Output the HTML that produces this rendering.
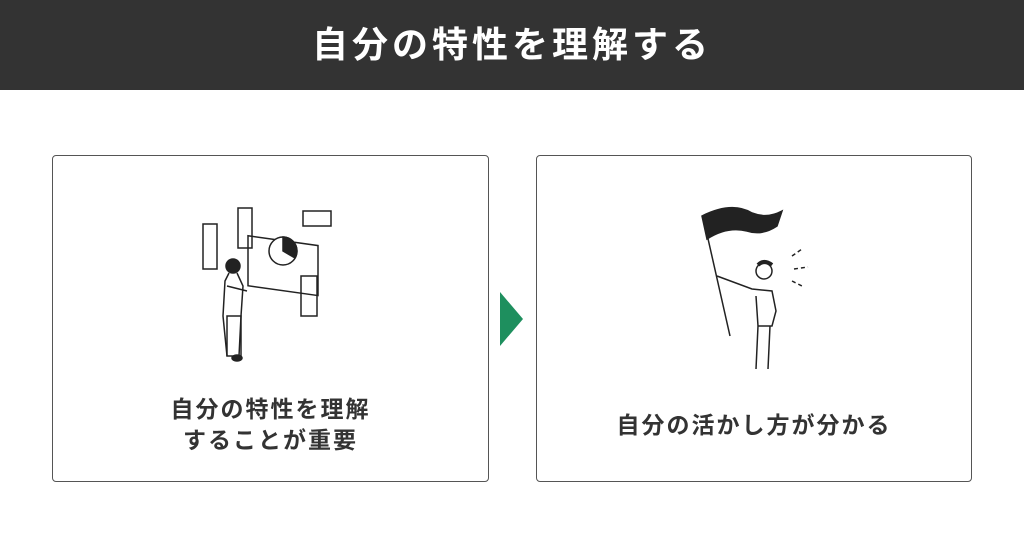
<!DOCTYPE html>
<html><head><meta charset="utf-8"><style>
html,body{margin:0;padding:0;}
body{width:1024px;height:538px;background:#fff;position:relative;overflow:hidden;font-family:"Liberation Sans","Noto Sans CJK JP",sans-serif;}
.hdr{position:absolute;left:0;top:0;width:1024px;height:90px;background:#333;color:#fff;font-weight:bold;font-size:36px;text-align:center;line-height:90px;letter-spacing:4px;}
.box{position:absolute;top:155px;height:327px;border:1.5px solid #555;border-radius:4px;box-sizing:border-box;}
.t{position:absolute;left:0;width:100%;text-align:center;font-weight:bold;font-size:23px;color:#333;line-height:31px;letter-spacing:2px;}
</style></head><body>
<div class="hdr">自分の特性を理解する</div>
<div class="box" style="left:52px;width:437px;">
<svg style="position:absolute;left:140px;top:50px" width="150" height="160" viewBox="0 0 150 160" fill="none" stroke="#222" stroke-width="1.5">
<rect x="55" y="22" width="70" height="50" transform="skewY(8)" />
<circle cx="90" cy="45" r="14" fill="#fff"/>
<path d="M90 45 L90 31 A14 14 0 0 1 102 52 Z" fill="#222"/>
<rect x="110" y="5" width="28" height="15"/>
<rect x="45" y="2" width="14" height="40"/>
<rect x="10" y="18" width="14" height="45"/>
<rect x="108" y="70" width="16" height="40"/>
<circle cx="40" cy="60" r="7" fill="#222"/>
<path d="M36 67 L32 75 L30 110 L34 150 M44 67 L50 80 L48 110 L46 150 M34 80 L54 85"/>
<rect x="34" y="110" width="14" height="40"/>
<ellipse cx="44" cy="152" rx="5" ry="3" fill="#222"/>
</svg>
<div class="t" style="top:238px">自分の特性を理解<br>することが重要</div>
</div>
<svg style="position:absolute;left:500px;top:292px" width="24" height="54"><polygon points="0,0 23,27 0,54" fill="#1e8f5e"/></svg>
<div class="box" style="left:536px;width:436px;">
<svg style="position:absolute;left:155px;top:45px" width="130" height="180" viewBox="0 0 130 180" fill="none" stroke="#222" stroke-width="1.5">
<path d="M10 15 Q40 0 60 12 Q75 18 90 10 L85 25 Q70 35 55 30 Q35 25 15 38 Z" fill="#222"/>
<line x1="12" y1="20" x2="38" y2="135"/>
<circle cx="72" cy="70" r="8" fill="#fff"/>
<path d="M66 64 Q72 58 80 64" stroke-width="4"/>
<path d="M25 75 L60 88 L80 90 L84 110 L80 125 L66 125 L64 95 M66 125 L64 168 M78 125 L76 168"/>
<path d="M100 55 L110 48 M102 68 L116 66 M100 80 L110 85" stroke-dasharray="4 3"/>
</svg>
<div class="t" style="top:254px">自分の活かし方が分かる</div>
</div>
</body></html>
